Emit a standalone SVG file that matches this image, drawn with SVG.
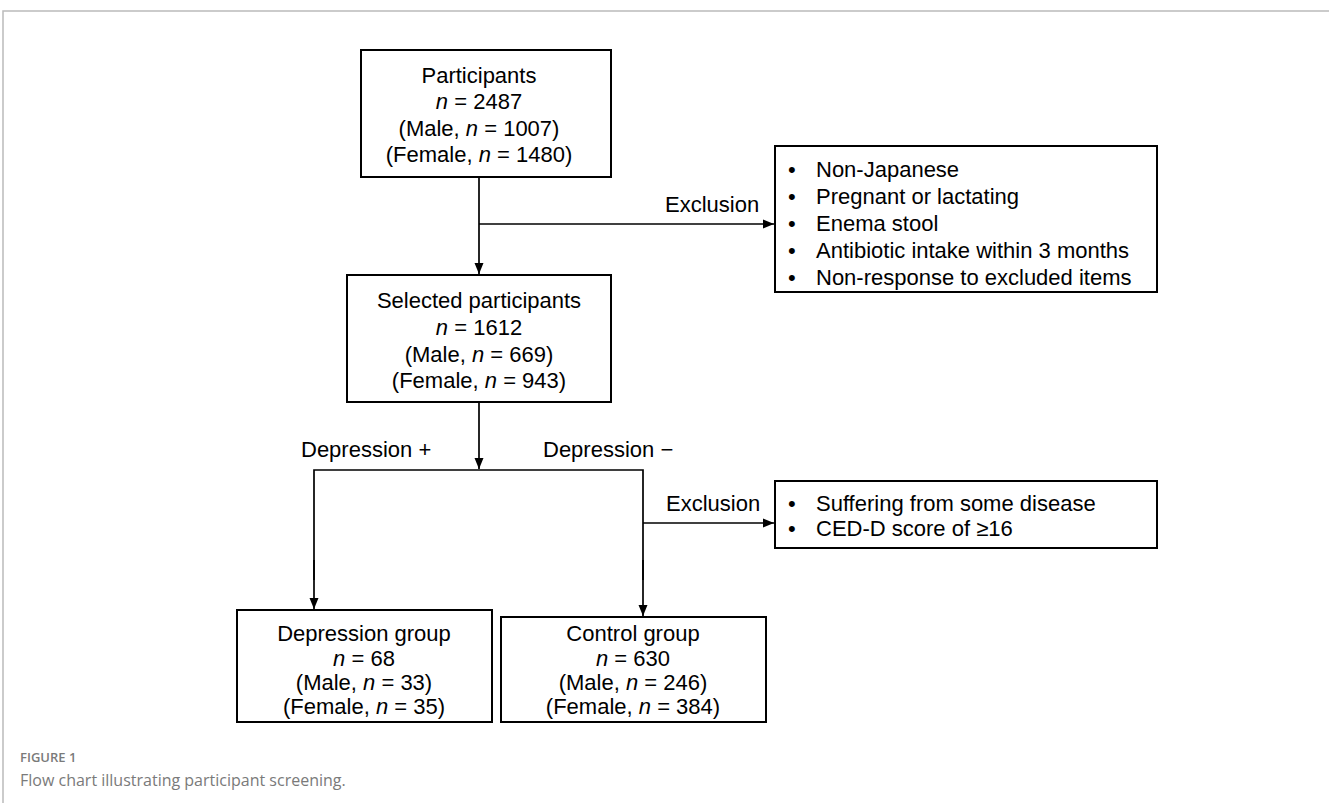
<svg xmlns="http://www.w3.org/2000/svg" width="1329" height="803" viewBox="0 0 1329 803">
<defs>
<marker id="ah" markerWidth="12" markerHeight="10" refX="11" refY="5" orient="auto" markerUnits="userSpaceOnUse">
<path d="M0,0.5 L11,5 L0,9.5 Z" fill="#000"/>
</marker>
<style>
.box{fill:#fff;stroke:#000;stroke-width:2}
.t{font-family:"Liberation Sans",Arial,sans-serif;font-size:22px;fill:#000}
.c{text-anchor:middle}
.ln{fill:none;stroke:#000;stroke-width:1.7}
.cap{font-family:"Open Sans","Noto Sans",sans-serif;fill:#7a7a7a}
</style>
</defs>
<rect width="1329" height="803" fill="#fff"/>
<path d="M3,803 L3,11 L1329,11" fill="none" stroke="#bbb" stroke-width="1.5"/>

<g id="connectors">
<line class="ln" x1="479" y1="177" x2="479" y2="274" marker-end="url(#ah)"/>
<line class="ln" x1="479" y1="224" x2="774" y2="224" marker-end="url(#ah)"/>
<line class="ln" x1="479" y1="402" x2="479" y2="469" marker-end="url(#ah)"/>
<polyline class="ln" points="314,580 314,470 643,470 643,580"/>
<line class="ln" x1="314" y1="560" x2="314" y2="609" marker-end="url(#ah)"/>
<line class="ln" x1="643" y1="560" x2="643" y2="616" marker-end="url(#ah)"/>
<line class="ln" x1="643" y1="523" x2="774" y2="523" marker-end="url(#ah)"/>
<text class="t" x="665" y="212">Exclusion</text>
<text class="t" x="301" y="457">Depression +</text>
<text class="t" x="543" y="457">Depression −</text>
<text class="t" x="666" y="511">Exclusion</text>
</g>

<g id="participants">
<rect class="box" x="361" y="50" width="250" height="127"/>
<text class="t c" x="479" y="83">Participants</text>
<text class="t c" x="479" y="109"><tspan font-style="italic">n</tspan> = 2487</text>
<text class="t c" x="479" y="136">(Male, <tspan font-style="italic">n</tspan> = 1007)</text>
<text class="t c" x="479" y="162">(Female, <tspan font-style="italic">n</tspan> = 1480)</text>
</g>

<g id="exclusion1">
<rect class="box" x="775" y="146" width="382" height="146"/>
<text class="t" x="788" y="177">•</text><text class="t" x="816" y="177">Non-Japanese</text>
<text class="t" x="788" y="204">•</text><text class="t" x="816" y="204">Pregnant or lactating</text>
<text class="t" x="788" y="231">•</text><text class="t" x="816" y="231">Enema stool</text>
<text class="t" x="788" y="258">•</text><text class="t" x="816" y="258">Antibiotic intake within 3 months</text>
<text class="t" x="788" y="285">•</text><text class="t" x="816" y="285">Non-response to excluded items</text>
</g>

<g id="selected">
<rect class="box" x="347" y="275" width="264" height="127"/>
<text class="t c" x="479" y="308">Selected participants</text>
<text class="t c" x="479" y="335"><tspan font-style="italic">n</tspan> = 1612</text>
<text class="t c" x="479" y="362">(Male, <tspan font-style="italic">n</tspan> = 669)</text>
<text class="t c" x="479" y="388">(Female, <tspan font-style="italic">n</tspan> = 943)</text>
</g>

<g id="exclusion2">
<rect class="box" x="775" y="481" width="382" height="67"/>
<text class="t" x="788" y="511">•</text><text class="t" x="816" y="511">Suffering from some disease</text>
<text class="t" x="788" y="536">•</text><text class="t" x="816" y="536">CED-D score of ≥16</text>
</g>

<g id="depression">
<rect class="box" x="237" y="610" width="255" height="112"/>
<text class="t c" x="364" y="641">Depression group</text>
<text class="t c" x="364" y="666"><tspan font-style="italic">n</tspan> = 68</text>
<text class="t c" x="364" y="690">(Male, <tspan font-style="italic">n</tspan> = 33)</text>
<text class="t c" x="364" y="714">(Female, <tspan font-style="italic">n</tspan> = 35)</text>
</g>

<g id="control">
<rect class="box" x="501" y="617" width="265" height="105"/>
<text class="t c" x="633" y="641">Control group</text>
<text class="t c" x="633" y="666"><tspan font-style="italic">n</tspan> = 630</text>
<text class="t c" x="633" y="690">(Male, <tspan font-style="italic">n</tspan> = 246)</text>
<text class="t c" x="633" y="714">(Female, <tspan font-style="italic">n</tspan> = 384)</text>
</g>

<g id="caption">
<text class="cap" x="20" y="762" font-size="13" font-weight="600">FIGURE 1</text>
<text class="cap" x="20" y="786" font-size="16">Flow chart illustrating participant screening.</text>
</g>
</svg>
